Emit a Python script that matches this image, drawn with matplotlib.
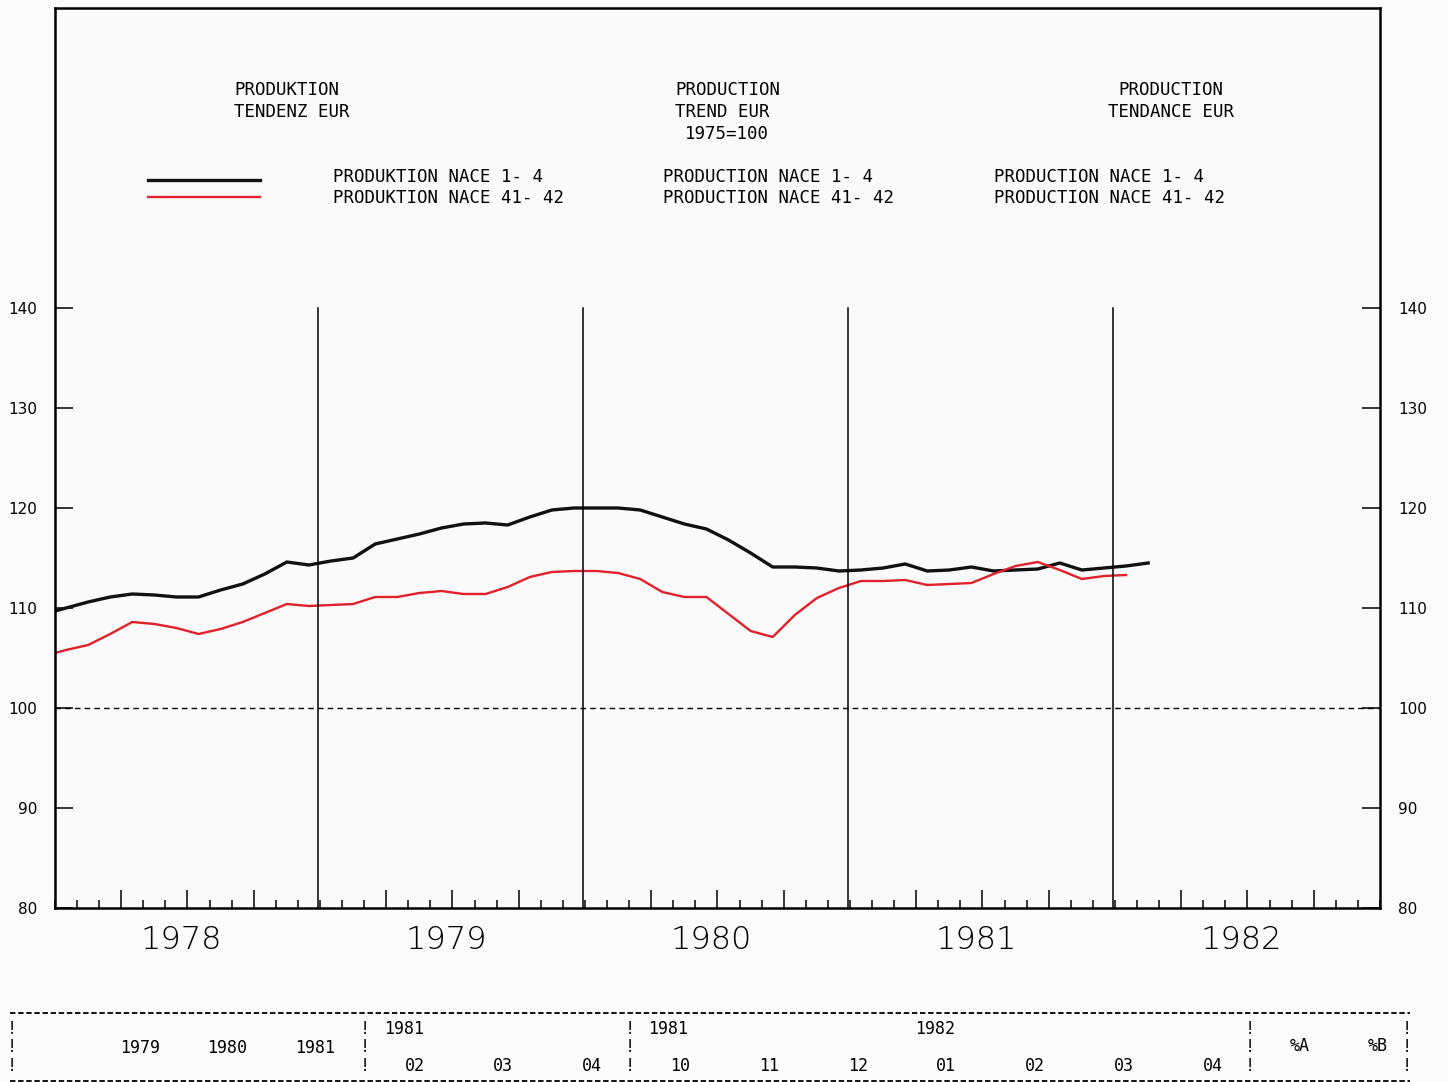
import numpy as np
import matplotlib
matplotlib.use("Agg")
import matplotlib.pyplot as plt
import matplotlib.transforms as mtransforms
from matplotlib.ticker import FixedLocator, FuncFormatter

# =========================
# データ (1977年12月から月次、月の中央に描画)
# =========================
START_YEAR = 1978
nace_1_4 = [109.4, 110.0, 110.6, 111.1, 111.4, 111.3, 111.1, 111.1, 111.8, 112.4, 113.4,
            114.6, 114.3, 114.7, 115.0, 116.4, 116.9, 117.4, 118.0, 118.4, 118.5, 118.3,
            119.1, 119.8, 120.0, 120.0, 120.0, 119.8, 119.1, 118.4, 117.9, 116.8, 115.5,
            114.1, 114.1, 114.0, 113.7, 113.8, 114.0, 114.4, 113.7, 113.8, 114.1, 113.7,
            113.8, 113.9, 114.5, 113.8, 114.0, 114.2, 114.5]
nace_41_42 = [105.2, 105.8, 106.3, 107.4, 108.6, 108.4, 108.0, 107.4, 107.9, 108.6, 109.5,
              110.4, 110.2, 110.3, 110.4, 111.1, 111.1, 111.5, 111.7, 111.4, 111.4, 112.1,
              113.1, 113.6, 113.7, 113.7, 113.5, 112.9, 111.6, 111.1, 111.1, 109.4, 107.7,
              107.1, 109.3, 111.0, 112.0, 112.7, 112.7, 112.8, 112.3, 112.4, 112.5, 113.4,
              114.2, 114.6, 113.8, 112.9, 113.2, 113.3]
years = [1978, 1979, 1980, 1981, 1982]
y_ticks = [80, 90, 100, 110, 120, 130, 140]

x_black = START_YEAR + (np.arange(len(nace_1_4)) - 0.5) / 12
x_red = START_YEAR + (np.arange(len(nace_41_42)) - 0.5) / 12

# ヘッダー (ピクセル位置, 行ごと)
header_lines = [
    (234, 90, "PRODUKTION", "left"), (234, 112, "TENDENZ EUR", "left"),
    (675, 90, "PRODUCTION", "left"), (675, 112, "TREND EUR", "left"),
    (685, 134, "1975=100", "left"),
    (1171, 90, "PRODUCTION", "center"), (1171, 112, "TENDANCE EUR", "center"),
]

# 表のテキスト (ピクセル位置, 中央)
table_rows = [
    (140, 1048, "1979"), (227, 1048, "1980"), (315, 1048, "1981"),
    (404, 1029, "1981"), (415, 1066, "02"), (503, 1066, "03"), (592, 1066, "04"),
    (668, 1029, "1981"), (680, 1066, "10"), (769, 1066, "11"), (858, 1066, "12"),
    (935, 1029, "1982"), (946, 1066, "01"), (1035, 1066, "02"), (1124, 1066, "03"),
    (1213, 1066, "04"), (1300, 1046, "%A"), (1378, 1046, "%B"),
]
bang_cols = [12, 365, 630, 1250, 1407]

# =========================
# レイアウト
# =========================
W, H = 1448, 1082
fig = plt.figure(figsize=(W / 100, H / 100), dpi=100)
fig.patch.set_facecolor("#fbfbfb")
ax = fig.add_axes([55 / W, (H - 908) / H, (1380 - 55) / W, 900 / H])
ax.set_facecolor("#fafafa")

ax.set_xlim(1978, 1983)
ax.set_ylim(80, 170)

mono = "DejaVu Sans Mono"

# 系列
ax.plot(x_black, nace_1_4, color="#111111", lw=2.4, solid_joinstyle="round")
ax.plot(x_red, nace_41_42, color="#e0202a", lw=1.7, solid_joinstyle="round")

# 年の区切り線と 100 の破線
for yr in years[1:]:
    ax.plot([yr - 0.008, yr - 0.008], [80, 140], color="black", lw=1.1)
ax.axhline(100, color="black", lw=1.0, ls=(0, (4, 3)))

for s in ax.spines.values():
    s.set_linewidth(1.8)

# x 軸: 月の小目盛, 四半期の大目盛, 年ラベル
months = [START_YEAR + m / 12 for m in range(61)]
quarters = [START_YEAR + q / 4 for q in range(21) if q % 4 != 0]
ax.xaxis.set_minor_locator(FixedLocator(months))
ax.xaxis.set_major_locator(FixedLocator(quarters))
ax.xaxis.set_major_formatter(FuncFormatter(
    lambda v, p: str(int(v)) if abs(v - int(v) - 0.5) < 1e-6 else ""))
ax.tick_params(axis="x", which="minor", direction="in", length=6, width=1.1)
ax.tick_params(axis="x", which="major", direction="in", length=13, width=1.1,
               pad=12, labelsize=23)
shift = mtransforms.ScaledTranslation(-6 / 100, 0, fig.dpi_scale_trans)
for t in ax.get_xticklabels():
    t.set_fontweight("light")
    t.set_transform(t.get_transform() + shift)

# y 軸
ax.set_yticks(y_ticks)
ax.tick_params(axis="y", which="both", direction="in", length=13, width=1.1,
               left=True, right=True, labelleft=True, labelright=True,
               labelsize=11)
ax.tick_params(axis="y", which="major", pad=13)

# ピクセル座標のオーバーレイ
fs = 12.5
ax_px = fig.add_axes([0, 0, 1, 1], facecolor="none")
ax_px.set_xlim(0, W)
ax_px.set_ylim(H, 0)
ax_px.axis("off")

for x0, y0, s, ha in header_lines:
    ax_px.text(x0, y0, s, family=mono, fontsize=fs, va="center", ha=ha)

ax_px.plot([148, 260], [180, 180], color="#111111", lw=2.4)
ax_px.plot([148, 260], [197, 197], color="#e0202a", lw=1.7)
for x0, word in [(333, "PRODUKTION"), (663, "PRODUCTION"), (994, "PRODUCTION")]:
    ax_px.text(x0, 177, f"{word} NACE 1- 4", family=mono, fontsize=fs, va="center")
    ax_px.text(x0, 198, f"{word} NACE 41- 42", family=mono, fontsize=fs, va="center")

# 下部の表
ax_px.plot([10, 1410], [1013, 1013], color="black", lw=1.3, ls=(0, (3, 1.5)))
ax_px.plot([10, 1410], [1081, 1081], color="black", lw=1.3, ls=(0, (3, 1.5)))
for x0 in bang_cols:
    for y0 in [1029, 1047, 1066]:
        ax_px.text(x0, y0, "!", family=mono, fontsize=12, ha="center", va="center")
for x0, y0, s in table_rows:
    ax_px.text(x0, y0, s, family=mono, fontsize=12, ha="center", va="center")

fig.savefig("out.png", dpi=100, facecolor=fig.get_facecolor())
